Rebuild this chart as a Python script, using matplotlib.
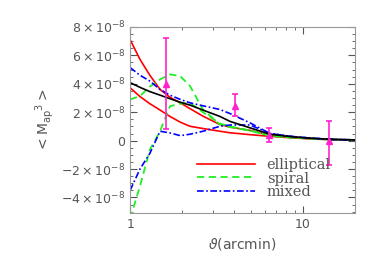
import matplotlib
matplotlib.use("Agg")
import matplotlib.pyplot as plt
from matplotlib.ticker import FixedLocator, MultipleLocator, NullFormatter

# angular scale (arcmin)
theta = [1.0, 1.14, 1.3, 1.49, 1.7, 1.95, 2.22, 2.64, 3.31, 3.79, 4.94, 6.45, 8.5, 11.0, 15.0, 20.0]

black = [4.08, 3.75, 3.45, 3.2, 2.95, 2.7, 2.5, 2.15, 1.7, 1.35, 0.9, 0.45, 0.28, 0.17, 0.08, 0.05]
ell_hi = [7.1, 5.72, 4.6, 3.6, 3.05, 2.66, 2.25, 1.72, 1.13, 0.95, 0.72, 0.4, 0.25, 0.15, 0.08, 0.05]
ell_lo = [3.72, 3.1, 2.6, 2.15, 1.7, 1.3, 1.01, 0.85, 0.66, 0.55, 0.42, 0.3, 0.2, 0.12, 0.06, 0.03]
spi_hi = [2.9, 3.13, 3.8, 4.31, 4.66, 4.54, 3.84, 2.19, 1.13, 0.95, 0.7, 0.35, 0.22, 0.14, 0.07, 0.05]
spi_lo = [-5.5, -3.2, -0.64, 0.66, 2.42, 2.6, 2.66, 2.0, 1.2, 1.0, 0.7, 0.35, 0.22, 0.14, 0.07, 0.05]
mix_hi = [5.14, 4.6, 4.19, 3.6, 3.2, 2.9, 2.66, 2.45, 2.19, 1.9, 1.25, 0.5, 0.3, 0.18, 0.08, 0.05]
mix_lo = [-3.5, -2.0, -0.9, 0.66, 0.54, 0.35, 0.45, 0.66, 1.01, 1.1, 1.1, 0.5, 0.3, 0.18, 0.08, 0.05]

# measured points
obs_x = [1.61, 4.05, 6.35, 14.1]
obs_y = [4.0, 2.47, 0.42, 0.0]
obs_lo = [0.8, 1.7, -0.07, -1.7]
obs_hi = [7.2, 3.25, 0.92, 1.4]

scale = 1e-8
grey = "#555555"

fig = plt.figure(figsize=(3.74, 2.67), dpi=100)
ax = fig.add_axes([0.348, 0.202, 0.601, 0.697])

ax.plot(theta, [v * scale for v in ell_hi], color="red", lw=1.2, label="elliptical")
ax.plot(theta, [v * scale for v in ell_lo], color="red", lw=1.2)
ax.plot(theta, [v * scale for v in spi_hi], color="#22ee22", lw=1.3, ls=(0, (4, 2.5)), label="spiral")
ax.plot(theta, [v * scale for v in spi_lo], color="#22ee22", lw=1.3, ls=(0, (4, 2.5)))
ax.plot(theta, [v * scale for v in mix_hi], color="blue", lw=1.2, ls=(0, (4, 1.5, 1, 1.5)), label="mixed")
ax.plot(theta, [v * scale for v in mix_lo], color="blue", lw=1.2, ls=(0, (4, 1.5, 1, 1.5)))
ax.plot(theta, [v * scale for v in black], color="black", lw=1.2)

yerr = [[(y - lo) * scale for y, lo in zip(obs_y, obs_lo)],
        [(hi - y) * scale for y, hi in zip(obs_y, obs_hi)]]
ax.errorbar(obs_x, [v * scale for v in obs_y], yerr=yerr, fmt="^", color="#ff22cc",
            ms=4, lw=1.2, capsize=2.5, capthick=1.2)

ax.set_xscale("log")
ax.set_xlim(1, 20)
ax.set_ylim(-5.1e-8, 8e-8)

yt = [-4e-8, -2e-8, 0, 2e-8, 4e-8, 6e-8, 8e-8]
ylabels = [r"$-4\times10^{-8}$", r"$-2\times10^{-8}$", "0", r"$2\times10^{-8}$",
           r"$4\times10^{-8}$", r"$6\times10^{-8}$", r"$8\times10^{-8}$"]
ax.yaxis.set_major_locator(FixedLocator(yt))
ax.set_yticklabels(ylabels)
ax.yaxis.set_minor_locator(MultipleLocator(0.5e-8))
ax.set_xticks([1, 10])
ax.set_xticklabels(["1", "10"])
ax.xaxis.set_minor_formatter(NullFormatter())

ax.tick_params(which="both", direction="in", top=True, right=True, colors=grey,
               labelsize=9, labelcolor=grey)
ax.tick_params(which="major", length=5)
ax.tick_params(which="minor", length=2.5)
for s in ax.spines.values():
    s.set_color("#999999")

ax.set_xlabel(r"$\vartheta$(arcmin)", fontsize=10, color=grey)
ax.set_ylabel(r"$<\mathrm{M_{ap}}^{3}>$", fontsize=10, color=grey, labelpad=4)

ax.legend(loc="lower left", frameon=False, handlelength=4.0, handletextpad=0.8,
          labelspacing=-0.05, prop={"family": "DejaVu Serif", "size": 10.5},
          bbox_to_anchor=(0.27, 0.045), labelcolor=grey, borderaxespad=0)

fig.savefig("out.png", dpi=100)
